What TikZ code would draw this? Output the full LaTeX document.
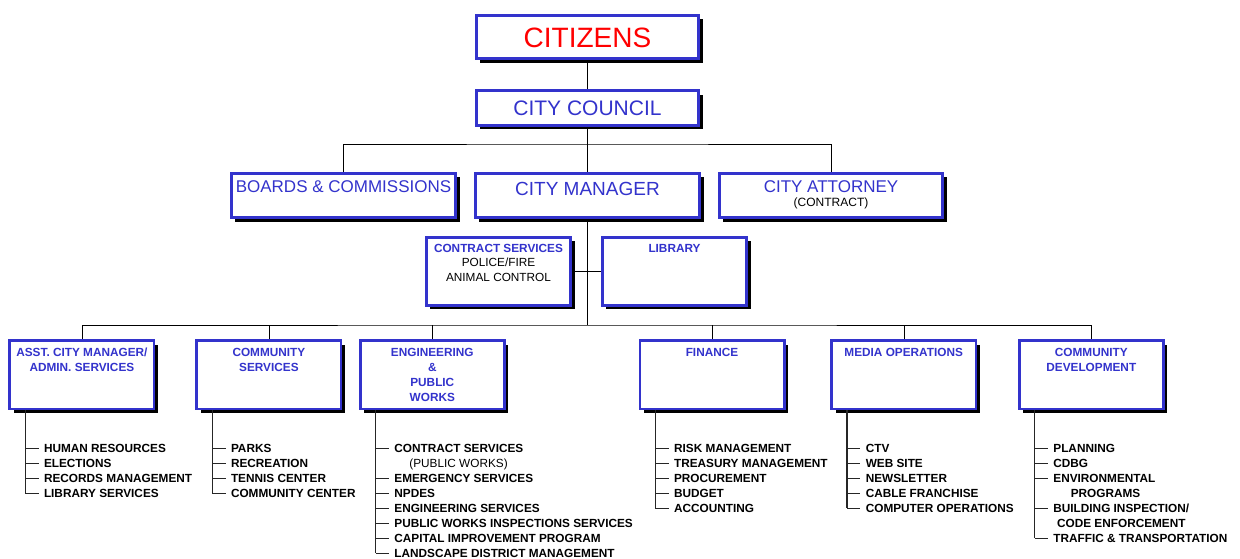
\documentclass[tikz,border=0pt]{standalone}
\usepackage{fontspec}
\setmainfont{Liberation Sans}
\usetikzlibrary{positioning, shadows, backgrounds}
\definecolor{cityblue}{RGB}{51,51,204}

\begin{document}
\begin{tikzpicture}[x=1pt, y=-1pt, line width=1pt,
  box/.style={draw=cityblue, line width=2.7pt, fill=white, inner sep=0pt,
    drop shadow={shadow xshift=4pt, shadow yshift=-4pt, fill=black, opacity=1}},
  top/.style={box, minimum width=224.3pt, minimum height=44.3pt},
  dept/.style={box, minimum width=144.3pt, minimum height=68.3pt},
  head/.style={inner sep=0pt, align=center, text=cityblue},
  small/.style={font=\bfseries\fontsize{11.8}{15}\selectfont},
  item/.style={anchor=west, inner xsep=5pt, inner ysep=0pt, text height=8.5pt,
    text depth=0pt, font=\bfseries\fontsize{11.8}{15}\selectfont},
  rail/.style={draw=black!85, line width=1.3pt}]
  \useasboundingbox (0,0) rectangle (1240,558);

  \node[box, minimum width=222.3pt, minimum height=43.3pt, text=red, text height=20pt,
    text depth=0pt, font=\fontsize{28}{30}\selectfont] (cit) at (587.5,37) {CITIZENS};
  \node[box, minimum width=222.3pt, minimum height=34.7pt, text=cityblue, text height=15.2pt,
    text depth=0pt, font=\fontsize{21}{24}\selectfont] (council) at (587.5,108) {CITY COUNCIL};

  \node[top] (boards) at (343.5,195.5) {};
  \node[top] (mgr) at (587.5,195.5) {};
  \node[top, minimum width=223.3pt] (atty) at (831,195.5) {};
  \node[head, font=\fontsize{17}{20}\selectfont, below=8.5pt of boards.north] (boardsT) {BOARDS \& COMMISSIONS};
  \node[head, font=\fontsize{19}{22}\selectfont, below=9.5pt of mgr.north] (mgrT) {CITY MANAGER};
  \node[head, font=\fontsize{17}{14.4}\selectfont, below=8pt of atty.north] (attyT)
    {CITY ATTORNEY\\{\fontsize{12}{14.4}\selectfont\color{black}(CONTRACT)}};

  \node[dept] (contract) at (498.5,271.3) {};
  \node[dept] (library) at (674.5,271.3) {};
  \node[head, text=black, font=\fontsize{11.8}{14.5}\selectfont, below=7.6pt of contract.north] (contractT)
    {\textbf{\color{cityblue}CONTRACT SERVICES}\\POLICE/FIRE\\ANIMAL CONTROL};
  \node[head, small, below=7.6pt of library.north] (libraryT) {LIBRARY};

  \node[dept] (asst) at (81.9,374.7) {};
  \node[dept] (comm) at (268.9,374.7) {};
  \node[dept] (eng) at (432.3,374.7) {};
  \node[dept] (fin) at (712,374.7) {};
  \node[dept] (media) at (903.7,374.7) {};
  \node[dept] (dev) at (1091.3,374.7) {};
  \node[head, small, below=8.3pt of asst.north] (asstT) {ASST. CITY MANAGER/\\ADMIN. SERVICES};
  \node[head, small, below=8.3pt of comm.north] (commT) {COMMUNITY\\SERVICES};
  \node[head, small, below=8.3pt of eng.north] (engT) {ENGINEERING\\\&\\PUBLIC\\WORKS};
  \node[head, small, below=8.3pt of fin.north] (finT) {FINANCE};
  \node[head, small, below=8.3pt of media.north] (mediaT) {MEDIA OPERATIONS};
  \node[head, small, below=8.3pt of dev.north] (devT) {COMMUNITY\\DEVELOPMENT};

  \begin{scope}[on background layer]
    \coordinate (bus3) at (587.5,144);
    \coordinate (bus4) at (587.5,325);
    \draw (cit) -- (council);
    \draw (council) -- (mgr);
    \draw (boards.north) |- (bus3) -| (atty.north);
    \draw (mgr) -- (bus4);
    \draw (contract.east) -- (library.west);
    \draw (asst.north) |- (bus4) -| (dev.north);
    \foreach \d in {comm, eng, fin, media}
      \draw (\d.north) -- (\d.north |- bus4);
  \end{scope}

  % sections listed under each department
  \foreach \d in {asst, comm, eng, fin, media, dev}
    \coordinate (\d rail) at ([xshift=16.8pt]\d.south west);

  \foreach \txt [count=\n] in {HUMAN RESOURCES, ELECTIONS, RECORDS MANAGEMENT, LIBRARY SERVICES} {
    \node[item] (asst\n) at ([xshift=13.3pt, yshift={-23pt-15pt*\n}]asstrail) {\txt};
    \draw[rail] (asstrail |- asst\n.west) -- (asst\n.west);
  }
  \draw[rail] (asstrail) -- (asstrail |- asst4.west);

  \foreach \txt [count=\n] in {PARKS, RECREATION, TENNIS CENTER, COMMUNITY CENTER} {
    \node[item] (comm\n) at ([xshift=13.3pt, yshift={-23pt-15pt*\n}]commrail) {\txt};
    \draw[rail] (commrail |- comm\n.west) -- (comm\n.west);
  }
  \draw[rail] (commrail) -- (commrail |- comm4.west);

  \foreach \txt/\n in {CONTRACT SERVICES/1, EMERGENCY SERVICES/3, NPDES/4, ENGINEERING SERVICES/5,
      PUBLIC WORKS INSPECTIONS SERVICES/6, CAPITAL IMPROVEMENT PROGRAM/7, LANDSCAPE DISTRICT MANAGEMENT/8} {
    \node[item] (eng\n) at ([xshift=13.3pt, yshift={-23pt-15pt*\n}]engrail) {\txt};
    \draw[rail] (engrail |- eng\n.west) -- (eng\n.west);
  }
  \node[item, font=\fontsize{11.8}{15}\selectfont] (eng2) at ([xshift=28.3pt, yshift=-53pt]engrail) {(PUBLIC WORKS)};
  \draw[rail] (engrail) -- (engrail |- eng8.west);

  \foreach \txt [count=\n] in {RISK MANAGEMENT, TREASURY MANAGEMENT, PROCUREMENT, BUDGET, ACCOUNTING} {
    \node[item] (fin\n) at ([xshift=13.3pt, yshift={-23pt-15pt*\n}]finrail) {\txt};
    \draw[rail] (finrail |- fin\n.west) -- (fin\n.west);
  }
  \draw[rail] (finrail) -- (finrail |- fin5.west);

  \foreach \txt [count=\n] in {CTV, WEB SITE, NEWSLETTER, CABLE FRANCHISE, COMPUTER OPERATIONS} {
    \node[item] (media\n) at ([xshift=13.3pt, yshift={-23pt-15pt*\n}]mediarail) {\txt};
    \draw[rail] (mediarail |- media\n.west) -- (media\n.west);
  }
  \draw[rail] (mediarail) -- (mediarail |- media5.west);

  \foreach \txt/\n in {PLANNING/1, CDBG/2, ENVIRONMENTAL/3, BUILDING INSPECTION\slash/5, TRAFFIC \& TRANSPORTATION/7} {
    \node[item] (dev\n) at ([xshift=13.3pt, yshift={-23pt-15pt*\n}]devrail) {\txt};
    \draw[rail] (devrail |- dev\n.west) -- (dev\n.west);
  }
  \node[item] (dev4) at ([xshift=30.7pt, yshift=-83pt]devrail) {PROGRAMS};
  \node[item] (dev6) at ([xshift=17pt, yshift=-113pt]devrail) {CODE ENFORCEMENT};
  \draw[rail] (devrail) -- (devrail |- dev7.west);
\end{tikzpicture}
\end{document}
